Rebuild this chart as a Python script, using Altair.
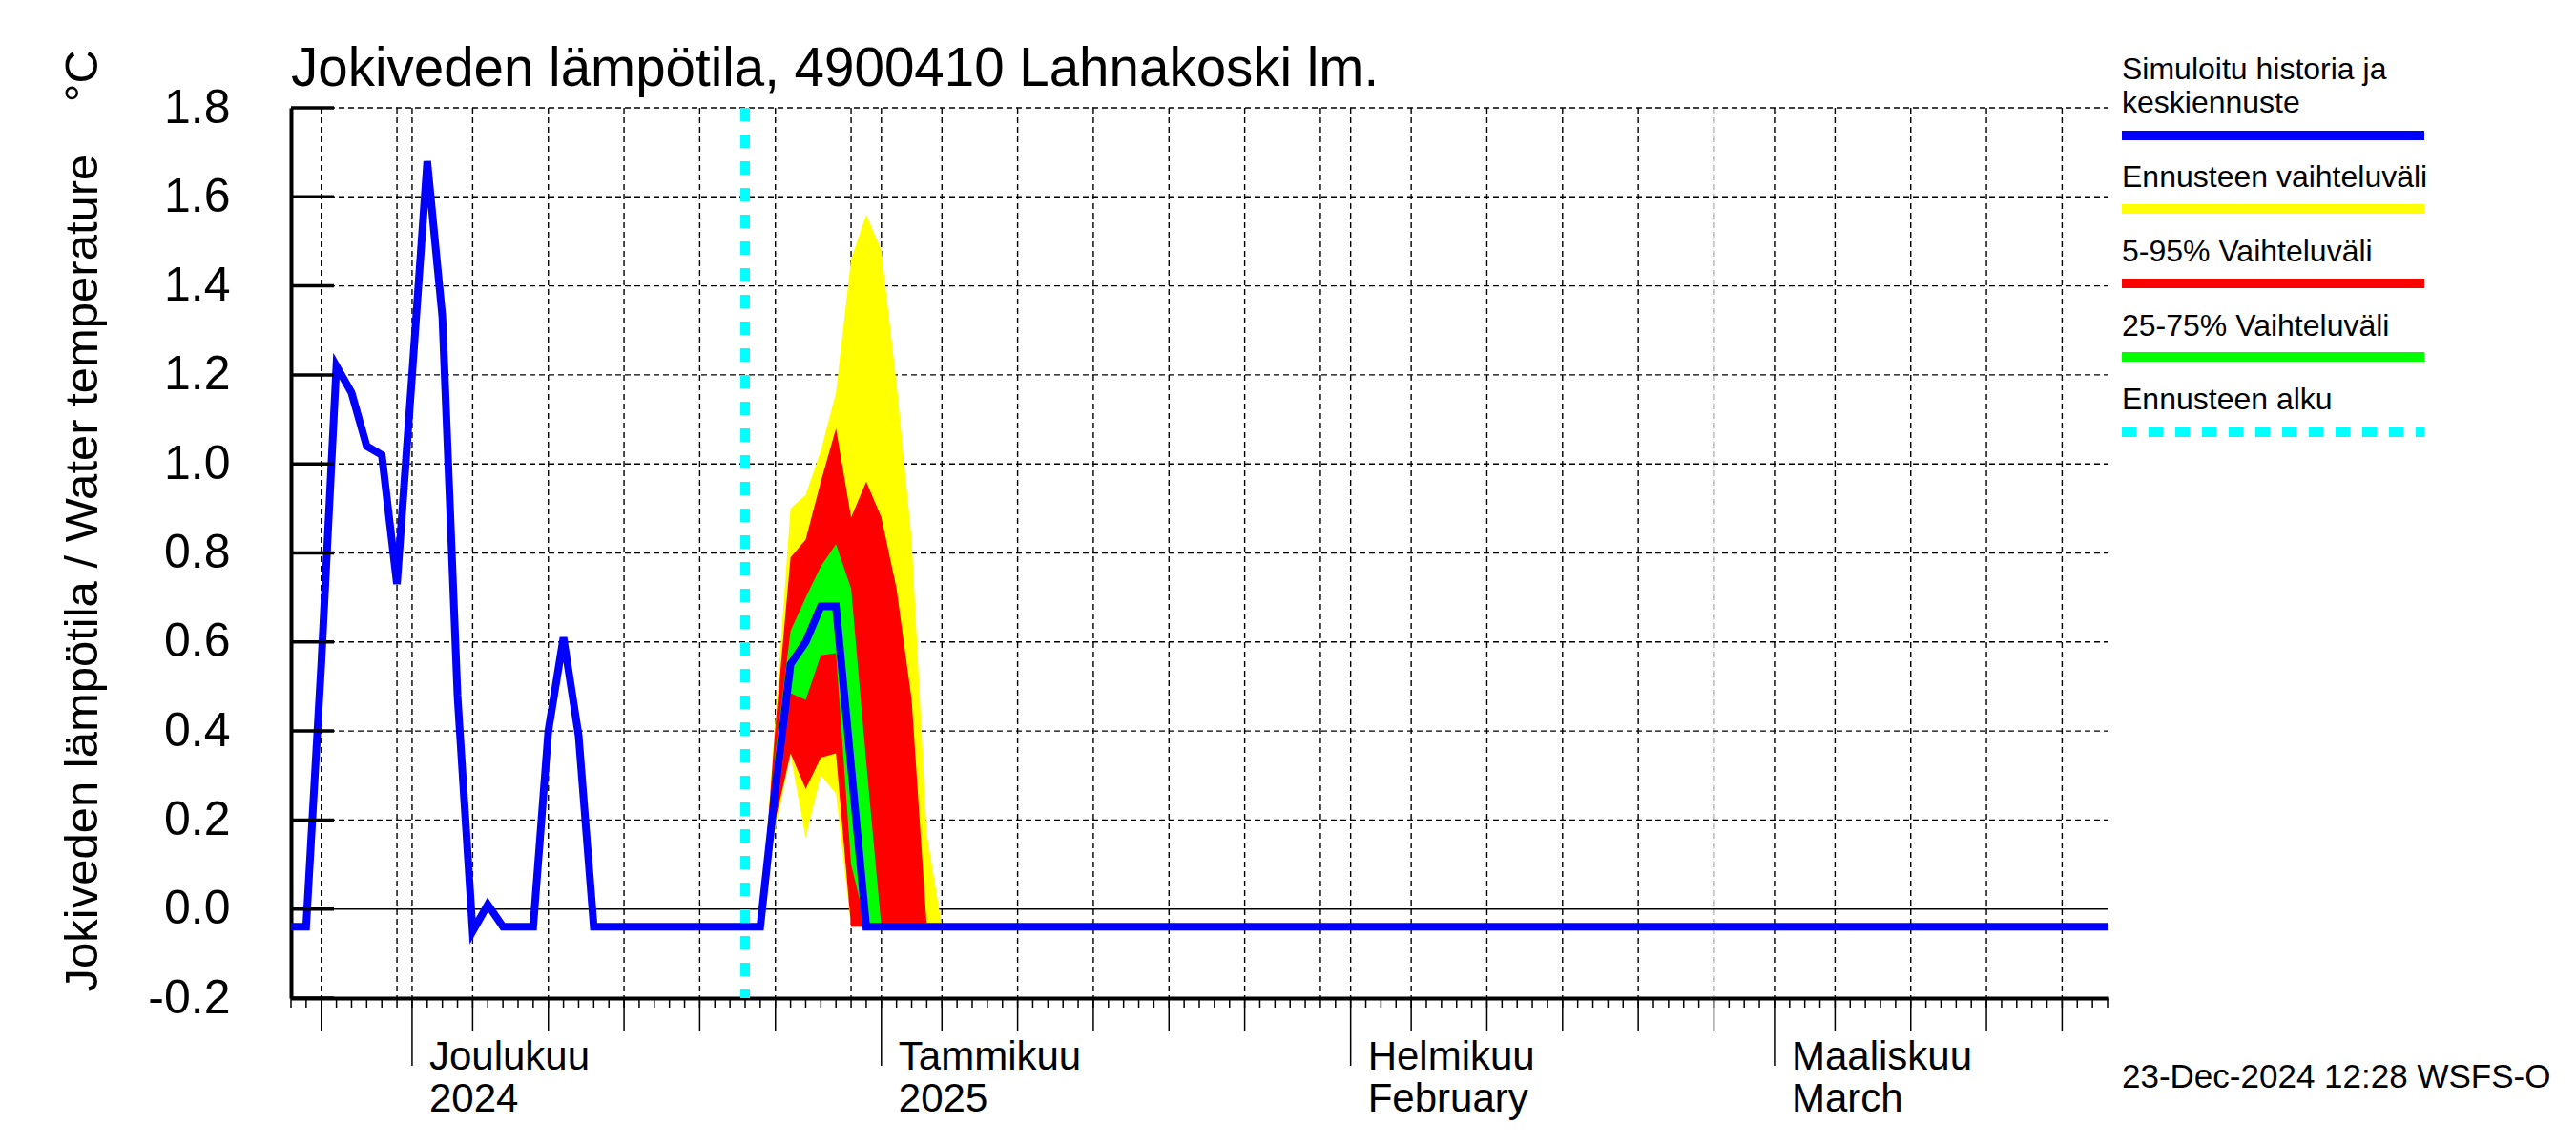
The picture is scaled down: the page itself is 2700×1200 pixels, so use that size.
import altair as alt
import pandas as pd

FONT = "Liberation Sans"

# ---------------- data ----------------
blue_dates = ["2024-11-23", "2024-11-24", "2024-11-25", "2024-11-26", "2024-11-27",
              "2024-11-28", "2024-11-29", "2024-11-30", "2024-12-01", "2024-12-02",
              "2024-12-03", "2024-12-04", "2024-12-05", "2024-12-06", "2024-12-07",
              "2024-12-08", "2024-12-09", "2024-12-10", "2024-12-11", "2024-12-12",
              "2024-12-13", "2024-12-24", "2024-12-25", "2024-12-26", "2024-12-27",
              "2024-12-28", "2024-12-29", "2024-12-30", "2024-12-31", "2025-03-23"]
blue_values = [-0.04, -0.04, 0.55, 1.22, 1.16,
               1.04, 1.02, 0.73, 1.20, 1.68,
               1.33, 0.48, -0.05, 0.01, -0.04,
               -0.04, -0.04, 0.40, 0.61, 0.39,
               -0.04, -0.04, 0.27, 0.55, 0.60,
               0.68, 0.68, 0.32, -0.04, -0.04]

band_dates = ["2024-12-24", "2024-12-25", "2024-12-26", "2024-12-27", "2024-12-28",
              "2024-12-29", "2024-12-30", "2024-12-31", "2025-01-01", "2025-01-02",
              "2025-01-03", "2025-01-04", "2025-01-05"]
yellow_high = [-0.04, 0.43, 0.90, 0.93, 1.03, 1.16, 1.46, 1.56, 1.48, 1.18, 0.83, 0.17, -0.04]
yellow_low = [-0.04, 0.18, 0.345, 0.16, 0.30, 0.26, -0.04, -0.04, -0.04, -0.04, -0.04, -0.04, -0.04]
red_high = [-0.04, 0.41, 0.79, 0.83, 0.96, 1.08, 0.88, 0.96, 0.88, 0.72, 0.47, -0.04, -0.04]
red_low = [-0.04, 0.20, 0.35, 0.27, 0.34, 0.35, -0.04, -0.04, -0.04, -0.04, -0.04, -0.04, -0.04]
green_high = [-0.04, 0.35, 0.625, 0.70, 0.77, 0.82, 0.72, 0.33, -0.04, -0.04, -0.04, -0.04, -0.04]
green_low = [-0.04, 0.25, 0.485, 0.47, 0.57, 0.575, 0.10, -0.04, -0.04, -0.04, -0.04, -0.04, -0.04]

forecast_start = ["2024-12-23"]

y_ticks = [-0.2, 0.0, 0.2, 0.4, 0.6, 0.8, 1.0, 1.2, 1.4, 1.6, 1.8]
month_starts = ["2024-12-01", "2025-01-01", "2025-02-01", "2025-03-01"]
month_labels = ["Joulukuu\n2024", "Tammikuu\n2025", "Helmikuu\nFebruary", "Maaliskuu\nMarch"]

legend_labels = ["Simuloitu historia ja\nkeskiennuste", "Ennusteen vaihteluväli",
                 "5-95% Vaihteluväli", "25-75% Vaihteluväli", "Ennusteen alku"]
legend_colors = ["#0000ff", "#ffff00", "#ff0000", "#00ff00", "#00ffff"]

title_text = "Jokiveden lämpötila, 4900410 Lahnakoski lm."
NB = "\u00a0"
y_title = "Jokiveden lämpötila / Water temperature" + NB * 4 + "°C"
stamp_text = "23-Dec-2024 12:28 WSFS-O"

# ---------------- tables ----------------
W, H = 1904, 933
blue_df = pd.DataFrame({"date": pd.to_datetime(blue_dates), "v": blue_values})
band_df = pd.DataFrame({"date": pd.to_datetime(band_dates),
                        "yl": yellow_low, "yh": yellow_high,
                        "rl": red_low, "rh": red_high,
                        "gl": green_low, "gh": green_high})
days = pd.date_range("2024-11-23", "2025-03-23", freq="D")
day_df = pd.DataFrame({"date": days})
five_df = pd.DataFrame({"date": [d for d in days if d.day in (5, 10, 15, 20, 25)]})
vgrid_df = pd.DataFrame({"date": [d for d in days if d.day in (1, 5, 10, 15, 20, 25, 30)]})
month_df = pd.DataFrame({"date": pd.to_datetime(month_starts), "label": month_labels})
hgrid_df = pd.DataFrame({"v": [t for t in y_ticks if t > -0.2 and abs(t) > 1e-9]})
zero_df = pd.DataFrame({"v": [0.0]})
ytick_df = pd.DataFrame({"v": y_ticks})
fc_df = pd.DataFrame({"date": pd.to_datetime(forecast_start)})
one = pd.DataFrame({"a": [0]})

xscale = alt.Scale(domain=[alt.DateTime(year=2024, month=11, date=23),
                           alt.DateTime(year=2025, month=3, date=23)], nice=False)
yscale = alt.Scale(domain=[-0.2, 1.8], nice=False, zero=False)
xaxis = alt.Axis(ticks=False, labels=False, grid=False, domainWidth=4,
                 domainColor="black", title=None, tickSize=0)
yaxis = alt.Axis(values=y_ticks,
                 labelExpr="datum.value < 0 ? '-' + format(-datum.value, '.1f') : format(datum.value, '.1f')",
                 ticks=False, tickSize=0, grid=False,
                 domainWidth=4, domainColor="black", labelFont=FONT, labelFontSize=50,
                 labelColor="black", labelPadding=64, labelOverlap=False,
                 title=y_title, titleFont=FONT, titleFontSize=49, titleFontWeight="normal",
                 titleColor="black", titleAngle=270, titleX=-219, titleY=926,
                 titleAlign="left", titleBaseline="middle")


def X(f="date"):
    return alt.X(f"{f}:T", scale=xscale, axis=xaxis)


def Y(f):
    return alt.Y(f"{f}:Q", scale=yscale, axis=yaxis)


layers = []
# vertical dashed grid
layers.append(alt.Chart(vgrid_df).mark_rule(color="black", strokeWidth=1.4, strokeDash=[6, 4])
              .encode(x=X(), y=alt.value(0), y2=alt.value(H)))
# horizontal dashed grid
layers.append(alt.Chart(hgrid_df).mark_rule(color="black", strokeWidth=1.4, strokeDash=[6, 4])
              .encode(y=Y("v"), x=alt.value(0), x2=alt.value(W)))
layers.append(alt.Chart(zero_df).mark_rule(color="black", strokeWidth=1.4)
              .encode(y=Y("v"), x=alt.value(0), x2=alt.value(W)))
# bands
for lo, hi, col in [("yl", "yh", "#ffff00"), ("rl", "rh", "#ff0000"), ("gl", "gh", "#00ff00")]:
    layers.append(alt.Chart(band_df).mark_area(color=col, opacity=1, interpolate="linear")
                  .encode(x=X(), y=Y(lo), y2=alt.Y2(hi)))
# blue line
layers.append(alt.Chart(blue_df).mark_line(color="#0000ff", strokeWidth=8, strokeJoin="miter")
              .encode(x=X(), y=Y("v")))
# forecast start
layers.append(alt.Chart(fc_df).mark_rule(color="#00ffff", strokeWidth=10, strokeDash=[14, 14])
              .encode(x=X(), y=alt.value(0), y2=alt.value(H)))
# y ticks inside
layers.append(alt.Chart(ytick_df).mark_rule(color="black", strokeWidth=3.5)
              .encode(y=Y("v"), x=alt.value(0), x2=alt.value(45)))
# x ticks
layers.append(alt.Chart(day_df).mark_rule(color="black", strokeWidth=1.5)
              .encode(x=X(), y=alt.value(H), y2=alt.value(H + 10)))
layers.append(alt.Chart(five_df).mark_rule(color="black", strokeWidth=1.5)
              .encode(x=X(), y=alt.value(H), y2=alt.value(H + 35)))
layers.append(alt.Chart(month_df).mark_rule(color="black", strokeWidth=1.5)
              .encode(x=X(), y=alt.value(H), y2=alt.value(H + 71)))
layers.append(alt.Chart(month_df).mark_text(align="left", baseline="alphabetic", dx=18,
                                            font=FONT, fontSize=42, lineBreak="\n",
                                            lineHeight=44, color="black")
              .encode(x=X(), y=alt.value(H + 75), text="label:N"))
# title
layers.append(alt.Chart(one).mark_text(align="left", baseline="alphabetic", font=FONT,
                                       fontSize=56.5, color="black")
              .encode(x=alt.value(0), y=alt.value(-23), text=alt.value(title_text)))
# legend
leg_text_y = [-30, 83, 161, 239, 316]
leg_line_y = [29, 106, 184, 261, 340]
for lab, col, ty, ly in zip(legend_labels, legend_colors, leg_text_y, leg_line_y):
    layers.append(alt.Chart(one).mark_text(align="left", baseline="alphabetic", font=FONT,
                                           fontSize=32, lineBreak="\n", lineHeight=35,
                                           color="black")
                  .encode(x=alt.value(1919), y=alt.value(ty), text=alt.value(lab)))
    dash = [15, 13] if col == "#00ffff" else [1, 0]
    layers.append(alt.Chart(one).mark_rule(color=col, strokeWidth=10, strokeDash=dash,
                                           strokeCap="butt")
                  .encode(x=alt.value(1919), x2=alt.value(2236), y=alt.value(ly)))
# timestamp
layers.append(alt.Chart(one).mark_text(align="left", baseline="alphabetic", font=FONT,
                                       fontSize=35, color="black")
              .encode(x=alt.value(1919), y=alt.value(1027), text=alt.value(stamp_text)))

chart = alt.layer(*layers).properties(
    width=W, height=H,
    autosize=alt.AutoSizeParams(type="none"),
    padding={"left": 297, "top": 105, "right": 483, "bottom": 150},
    background="white",
).configure_view(stroke=None)

chart.save("out.html", embed_options={"renderer": "svg", "actions": False})
